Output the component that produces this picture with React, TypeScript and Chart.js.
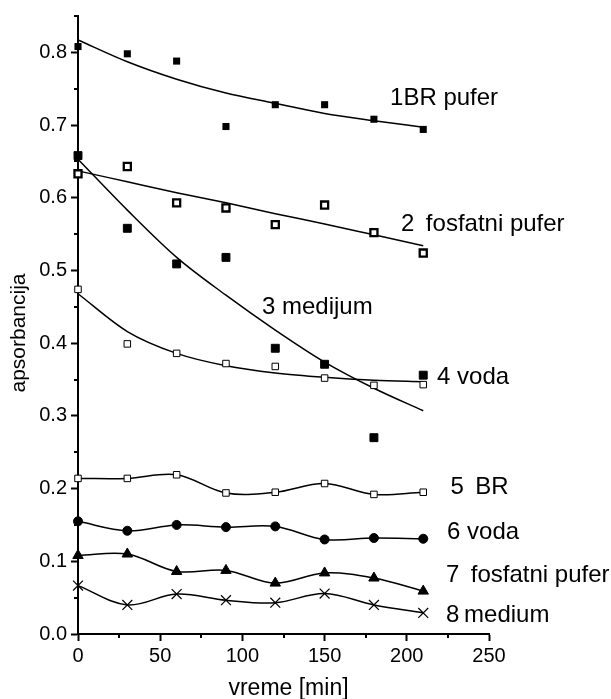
import React, { useEffect, useRef } from "react";
import { Chart, registerables } from "chart.js";

Chart.register(...registerables);

// ---- Data ----
const times = [0, 30, 60, 90, 120, 150, 180, 210];

const s1BRpufer = [0.808, 0.798, 0.788, 0.698, 0.728, 0.728, 0.708, 0.694];
const s2Fosfatni = [0.633, 0.643, 0.593, 0.586, 0.563, 0.59, 0.552, 0.524];
const s3Medijum = [0.658, 0.558, 0.509, 0.518, 0.393, 0.371, 0.27, 0.356];
const s4Voda = [0.474, 0.399, 0.386, 0.372, 0.368, 0.352, 0.342, 0.343];
const s5BR = [0.214, 0.214, 0.219, 0.194, 0.195, 0.207, 0.192, 0.195];
const s6Voda = [0.155, 0.142, 0.15, 0.147, 0.148, 0.13, 0.132, 0.131];
const s7Fosfatni = [0.108, 0.11, 0.086, 0.0875, 0.07, 0.084, 0.077, 0.059];
const s8Medium = [0.0666, 0.04, 0.055, 0.0465, 0.043, 0.0557, 0.04, 0.029];

// fitted curves (at the same times)
const fit1 = [0.817, 0.787, 0.763, 0.744, 0.73, 0.716, 0.706, 0.697];
const fit2 = [0.637, 0.622, 0.607, 0.593, 0.578, 0.564, 0.549, 0.534];
const fit3 = [0.653, 0.583, 0.518, 0.466, 0.418, 0.374, 0.338, 0.307];
const fit4 = [0.468, 0.416, 0.386, 0.369, 0.359, 0.353, 0.349, 0.347];

// curve labels: text and anchor (data coordinates, alphabetic baseline)
const labelTexts = [
  "1BR pufer",
  "2 \u2009fosfatni pufer",
  "3 medijum",
  "4 voda",
  "5 \u2009BR",
  "6 voda",
  "7 \u2009fosfatni pufer",
  "8\u2009medium",
];
const labelX = [189.8, 196.5, 111.9, 218.4, 226.6, 224.5, 223.8, 223.8];
const labelY = [0.727, 0.554, 0.44, 0.344, 0.1925, 0.13, 0.0715, 0.0168];

const xMajorTicks = [0, 50, 100, 150, 200, 250];
const xMinorTicks = [25, 75, 125, 175, 225];
const yMinorTicks = [0.05, 0.15, 0.25, 0.35, 0.45, 0.55, 0.65, 0.75, 0.85];

const xTitle = "vreme [min]";
const yTitle = "apsorbancija";

const FONT = "'Liberation Sans', Arial, Helvetica, sans-serif";

const pts = (ys: number[]) => times.map((t, i) => ({ x: t, y: ys[i] }));

export default function App() {
  const ref = useRef<HTMLCanvasElement | null>(null);

  useEffect(() => {
    document.body.style.margin = "0";
    const canvas = ref.current;
    if (!canvas) return;

    const fitDs = (ys: number[]) => ({
      data: pts(ys),
      showLine: true,
      borderColor: "#000",
      borderWidth: 1.5,
      pointRadius: 0,
      tension: 0.4,
      cubicInterpolationMode: "monotone" as const,
      clip: false as const,
      order: 2,
    });

    const markerDs = (ys: number[], style: any, radius: number, bg: string, bw: number) => ({
      data: pts(ys),
      showLine: false,
      pointStyle: style,
      pointRadius: radius,
      pointBackgroundColor: bg,
      pointBorderColor: "#000",
      pointBorderWidth: bw,
      clip: false as const,
      order: 1,
    });

    const splineDs = (ys: number[], style: any, radius: number, bg: string, bw: number) => ({
      data: pts(ys),
      showLine: true,
      borderColor: "#000",
      borderWidth: 1.5,
      tension: 0.35,
      pointStyle: style,
      pointRadius: radius,
      pointBackgroundColor: bg,
      pointBorderColor: "#000",
      pointBorderWidth: bw,
      clip: false as const,
      order: 1,
    });

    const extras = {
      id: "extras",
      afterDraw(chart: any) {
        const ctx = chart.ctx as CanvasRenderingContext2D;
        const xs = chart.scales.x;
        const ys = chart.scales.y;
        const area = chart.chartArea;
        ctx.save();
        // minor ticks
        ctx.strokeStyle = "#000";
        ctx.lineWidth = 2;
        ctx.beginPath();
        xMinorTicks.forEach((v) => {
          const px = Math.round(xs.getPixelForValue(v));
          ctx.moveTo(px, area.bottom);
          ctx.lineTo(px, area.bottom + 4);
        });
        yMinorTicks.forEach((v) => {
          const py = Math.round(ys.getPixelForValue(v));
          ctx.moveTo(area.left - 4, py);
          ctx.lineTo(area.left, py);
        });
        ctx.stroke();

        // curve labels
        ctx.fillStyle = "#000";
        ctx.font = `24px ${FONT}`;
        ctx.textAlign = "left";
        ctx.textBaseline = "alphabetic";
        labelTexts.forEach((t, i) => {
          ctx.fillText(t, xs.getPixelForValue(labelX[i]), ys.getPixelForValue(labelY[i]));
        });

        // axis titles
        ctx.font = `23px ${FONT}`;
        ctx.textAlign = "center";
        ctx.fillText(xTitle, (area.left + area.right) / 2 + 5, 694.5);

        ctx.font = `21px ${FONT}`;
        ctx.translate(25, 333);
        ctx.rotate(-Math.PI / 2);
        ctx.textAlign = "center";
        ctx.textBaseline = "alphabetic";
        ctx.fillText(yTitle, 0, 0);
        ctx.restore();
      },
    };

    const chart = new Chart(canvas, {
      type: "scatter",
      data: {
        datasets: [
          fitDs(fit1),
          fitDs(fit2),
          fitDs(fit3),
          fitDs(fit4),
          markerDs(s1BRpufer, "rect", 5, "#000", 0),
          markerDs(s2Fosfatni, "rect", 5, "#fff", 2.3),
          markerDs(s3Medijum, "rect", 5.6, "#000", 1),
          markerDs(s4Voda, "rect", 4.6, "#fff", 1),
          splineDs(s5BR, "rect", 4.6, "#fff", 1),
          splineDs(s6Voda, "circle", 4.5, "#000", 1),
          splineDs(s7Fosfatni, "triangle", 6, "#000", 1),
          splineDs(s8Medium, "crossRot", 7, "#000", 1.2),
        ] as any,
      },
      options: {
        responsive: false,
        animation: false,
        events: [],
        layout: { padding: { left: 0, right: 122, top: 14, bottom: 0 } },
        plugins: {
          legend: { display: false },
          tooltip: { enabled: false },
          title: { display: false },
        },
        scales: {
          x: {
            type: "linear",
            min: 0,
            max: 250,
            afterFit: (scale: any) => {
              scale.height = 65;
            },
            afterBuildTicks: (scale: any) => {
              scale.ticks = xMajorTicks.map((v) => ({ value: v }));
            },
            ticks: {
              color: "#000",
              font: { family: FONT, size: 20 },
              padding: 3,
              maxRotation: 0,
              autoSkip: false,
              callback: (v: any) => String(v),
            },
            grid: {
              display: true,
              drawOnChartArea: false,
              drawTicks: true,
              tickLength: 7,
              tickWidth: 2,
              tickColor: "#000",
            },
            border: { display: true, color: "#000", width: 2 },
          },
          y: {
            type: "linear",
            min: 0,
            max: 0.85,
            afterFit: (scale: any) => {
              scale.width = 78;
            },
            ticks: {
              stepSize: 0.1,
              includeBounds: false,
              color: "#000",
              font: { family: FONT, size: 20 },
              padding: 4,
              callback: (v: any) => Number(v).toFixed(1),
            },
            grid: {
              display: true,
              drawOnChartArea: false,
              drawTicks: true,
              tickLength: 7,
              tickWidth: 2,
              tickColor: "#000",
            },
            border: { display: true, color: "#000", width: 2 },
          },
        },
      } as any,
      plugins: [extras],
    });

    return () => {
      chart.destroy();
    };
  }, []);

  return (
    <div style={{ width: 611, height: 699, background: "#fff" }}>
      <canvas ref={ref} width={611} height={699} style={{ display: "block" }} />
    </div>
  );
}
